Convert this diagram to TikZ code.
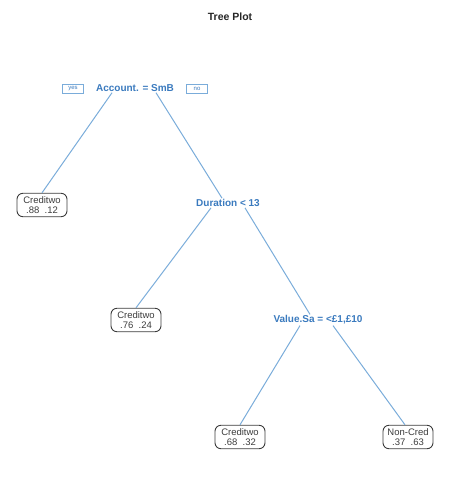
\documentclass[tikz,border=0pt]{standalone}
\usepackage{fontspec}
\setmainfont{Liberation Sans}
\usepackage{xcolor}
\usepackage{tikz}

\definecolor{SplitBlue}{RGB}{58,122,190}
\definecolor{EdgeBlue}{RGB}{122,172,218}
\definecolor{LeafGray}{RGB}{60,60,60}

\begin{document}
\begin{tikzpicture}[x=1pt,y=-1pt,
  split/.style={text=SplitBlue,font=\fontsize{10}{11}\selectfont\bfseries,inner sep=1pt},
  leaf/.style={draw=LeafGray,text=LeafGray,rounded corners=6pt,align=center,
    font=\fontsize{9.5}{10.5}\selectfont,inner sep=3pt,minimum width=50pt,line width=0.9pt},
  yesno/.style={draw=EdgeBlue,text=SplitBlue,font=\fontsize{6}{6}\selectfont,
    minimum width=21pt,minimum height=9.5pt,inner sep=1pt,line width=0.9pt},
  edge/.style={EdgeBlue,line width=1pt}]
\useasboundingbox (0,0) rectangle (460,482);

\node[font=\fontsize{10.5}{12}\selectfont\bfseries,text=black!85] (title) at (230,17) {Tree Plot};

\node[split] (acct) at (135,88) {Account. = SmB};
\node[yesno] (yes) at (73,89) {yes};
\node[yesno] (no) at (197,89) {no};

\node[split] (dur) at (228,203) {Duration < 13};
\node[split] (val) at (318,320) {Value.Sa = <£1,£10};

\node[leaf] (l1) at (42,205) {Creditwo\\.88~~.12};
\node[leaf] (l2) at (136,320) {Creditwo\\.76~~.24};
\node[leaf] (l3) at (240,437) {Creditwo\\.68~~.32};
\node[leaf] (l4) at (408,437) {Non-Cred\\.37~~.63};

\draw[edge] ([xshift=-23pt]acct.south) -- (l1.north);
\draw[edge] ([xshift=21pt]acct.south) -- ([xshift=-6pt]dur.north);
\draw[edge] ([xshift=-17pt]dur.south) -- (l2.north);
\draw[edge] ([xshift=17pt]dur.south) -- ([xshift=-8pt]val.north);
\draw[edge] ([xshift=-18pt]val.south) -- (l3.north);
\draw[edge] ([xshift=15pt]val.south) -- ([xshift=-3pt]l4.north);
\end{tikzpicture}
\end{document}
